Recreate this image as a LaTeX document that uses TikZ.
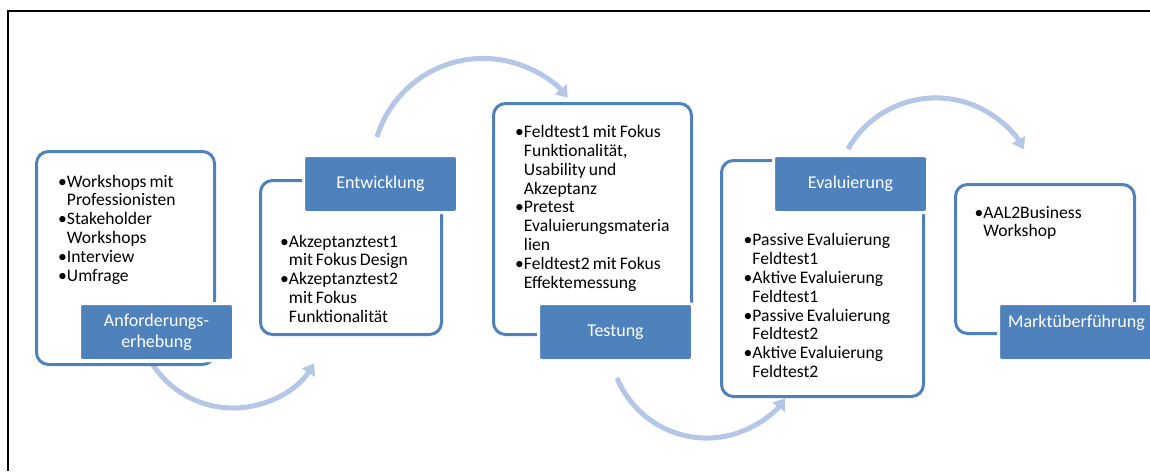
\documentclass[tikz,border=0pt]{standalone}
\usepackage{fontspec}
\setmainfont{Carlito}
\usetikzlibrary{arrows.meta}
\definecolor{obl}{RGB}{79,129,189}
\definecolor{arr}{RGB}{180,199,231}
\newcommand\bul{\textbullet}
\newcommand\bulsp{\hphantom{\textbullet}}
\newcommand\tightsp{\spaceskip=0.17em plus 0.05em\relax}
\begin{document}
\begin{tikzpicture}[x=1pt,y=-1pt,
  outline/.style={draw=obl, line width=3pt, rounded corners=12pt, anchor=north west,
    inner sep=0pt, minimum width=#1},
  labelbox/.style={fill=obl, draw=white, line width=3pt, rounded corners=3pt, anchor=north west,
    inner sep=0pt, minimum width=154pt, minimum height=57pt, text=white,
    font=\fontsize{18}{21}\selectfont, align=center},
  items/.style={anchor=base west, inner sep=0pt, text width=230pt, align=left,
    font=\fontsize{17.6}{18.85}\selectfont, execute at begin node=\tightsp},
  flow/.style={draw=arr, line width=5pt, -{Triangle[width=15pt,length=11pt]}}
]
\useasboundingbox (0,0) rectangle (1150,471);
% frame
\draw[line width=2.5pt] (8,471) -- (8,11) -- (1150,11);

% flow arcs
\coordinate (a1s) at (153,365);
\coordinate (a2s) at (377,137);
\coordinate (a3s) at (617,378);
\coordinate (a4s) at (848,149);
\draw[flow] (a1s) arc[start angle=146.5, end angle=32.3, radius=96];
\draw[flow] (a2s) arc[start angle=-163, end angle=-40.3, radius=111];
\draw[flow] (a3s) arc[start angle=157.6, end angle=36.2, radius=97];
\draw[flow] (a4s) arc[start angle=-150.4, end angle=-29.4, radius=101];

% outlines
\node[outline=178pt, minimum height=213pt] (o1) at (35,150) {};
\node[outline=181pt, minimum height=154pt] (o2) at (259,179) {};
\node[outline=198pt, minimum height=231pt] (o3) at (492,102) {};
\node[outline=202pt, minimum height=236pt] (o4) at (720,159) {};
\node[outline=179pt, minimum height=149pt] (o5) at (954,183) {};

% labels
\node[labelbox] (l1) at (78,302) {Anforderungs-\\erhebung};
\node[labelbox] (l2) at (302,154) {Entwicklung};
\node[labelbox] (l3) at (537,302) {Testung};
\node[labelbox] (l4) at (772,154) {Evaluierung};
\node[labelbox, minimum width=156pt] (l5) at (997,302) {Marktüberführung\\\mbox{}};

% bullet lists
\node[items] (t1) at (58,187) {\bul Workshops mit\\\bulsp Professionisten\\\bul Stakeholder\\\bulsp Workshops\\\bul Interview\\\bul Umfrage};
\node[items] (t2) at (280,247) {\bul Akzeptanztest1\\\bulsp mit Fokus Design\\\bul Akzeptanztest2\\\bulsp mit Fokus\\\bulsp Funktionalität};
\node[items] (t3) at (515,137.5) {\bul Feldtest1 mit Fokus\\\bulsp Funktionalität,\\\bulsp Usability und\\\bulsp Akzeptanz\\\bul Pretest\\\bulsp Evaluierungsmateria\\\bulsp lien\\\bul Feldtest2 mit Fokus\\\bulsp Effektemessung};
\node[items] (t4) at (743.5,245.7) {\bul Passive Evaluierung\\\bulsp Feldtest1\\\bul Aktive Evaluierung\\\bulsp Feldtest1\\\bul Passive Evaluierung\\\bulsp Feldtest2\\\bul Aktive Evaluierung\\\bulsp Feldtest2};
\node[items] (t5) at (974.5,218) {\bul AAL2Business\\\bulsp Workshop};
\end{tikzpicture}
\end{document}
